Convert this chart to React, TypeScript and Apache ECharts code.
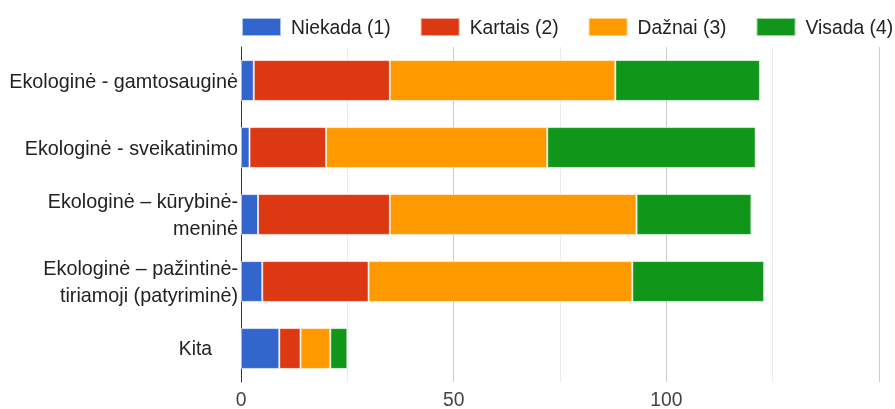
import React, { useEffect, useRef } from "react";
import * as echarts from "echarts";

const categories = [
  "Ekologinė - gamtosauginė",
  "Ekologinė - sveikatinimo",
  "Ekologinė – kūrybinė-\nmeninė",
  "Ekologinė – pažintinė-\ntiriamoji (patyriminė)",
  "Kita",
];
const seriesNames = ["Niekada (1)", "Kartais (2)", "Dažnai (3)", "Visada (4)"];
const niekada = [3, 2, 4, 5, 9];
const kartais = [32, 18, 31, 25, 5];
const daznai = [53, 52, 58, 62, 7];
const visada = [34, 49, 27, 31, 4];
const colors = ["#3366cc", "#dc3912", "#ff9900", "#109618"];

const FONT = "Arial, 'Liberation Sans', sans-serif";

export default function App() {
  const ref = useRef<HTMLDivElement>(null);
  useEffect(() => {
    if (!ref.current) return;
    const chart = echarts.init(ref.current, undefined, { renderer: "svg" });
    const values = [niekada, kartais, daznai, visada];
    chart.setOption({
      animation: false,
      color: colors,
      textStyle: { fontFamily: FONT },
      legend: {
        left: 241,
        top: 17,
        width: 800,
        padding: 0,
        itemWidth: 39,
        itemHeight: 18,
        itemGap: 29,
        icon: "rect",
        textStyle: {
          fontSize: 19.3,
          color: "#222",
          fontFamily: FONT,
          padding: [0, 0, 0, 5],
        },
        data: seriesNames,
      },
      grid: { left: 241, width: 638, top: 47, height: 335 },
      xAxis: {
        type: "value",
        min: 0,
        max: 150,
        interval: 50,
        axisLine: { show: false },
        axisTick: { show: false },
        axisLabel: {
          fontSize: 19.3,
          color: "#444",
          margin: 8,
          fontFamily: FONT,
          showMaxLabel: false,
        },
        splitLine: { show: true, lineStyle: { color: "#cccccc", width: 1 } },
        minorTick: { show: false, splitNumber: 2 },
        minorSplitLine: { show: true, lineStyle: { color: "#ebebeb", width: 1 } },
      },
      yAxis: {
        type: "category",
        data: categories,
        inverse: true,
        axisLine: { show: true, lineStyle: { color: "#333", width: 1 } },
        axisTick: { show: false },
        splitLine: { show: false },
        axisLabel: {
          fontSize: 19.8,
          color: "#222",
          margin: 3,
          lineHeight: 27,
          align: "right",
          fontFamily: FONT,
          formatter: (v: string) => (v === "Kita" ? "{k|Kita}" : v),
          rich: {
            k: {
              fontSize: 19.3,
              color: "#222",
              fontFamily: FONT,
              padding: [0, 26, 0, 0],
            },
          },
        },
      },
      series: seriesNames.map((name, i) => ({
        name,
        type: "bar",
        stack: "total",
        barCategoryGap: "39%",
        data: values[i],
        itemStyle: {
          color: colors[i],
          borderColor: "rgba(255,255,255,0.6)",
          borderWidth: 1,
        },
      })),
    });
    return () => chart.dispose();
  }, []);
  return (
    <div
      ref={ref}
      style={{ position: "fixed", left: 0, top: 0, width: 895, height: 409 }}
    />
  );
}
